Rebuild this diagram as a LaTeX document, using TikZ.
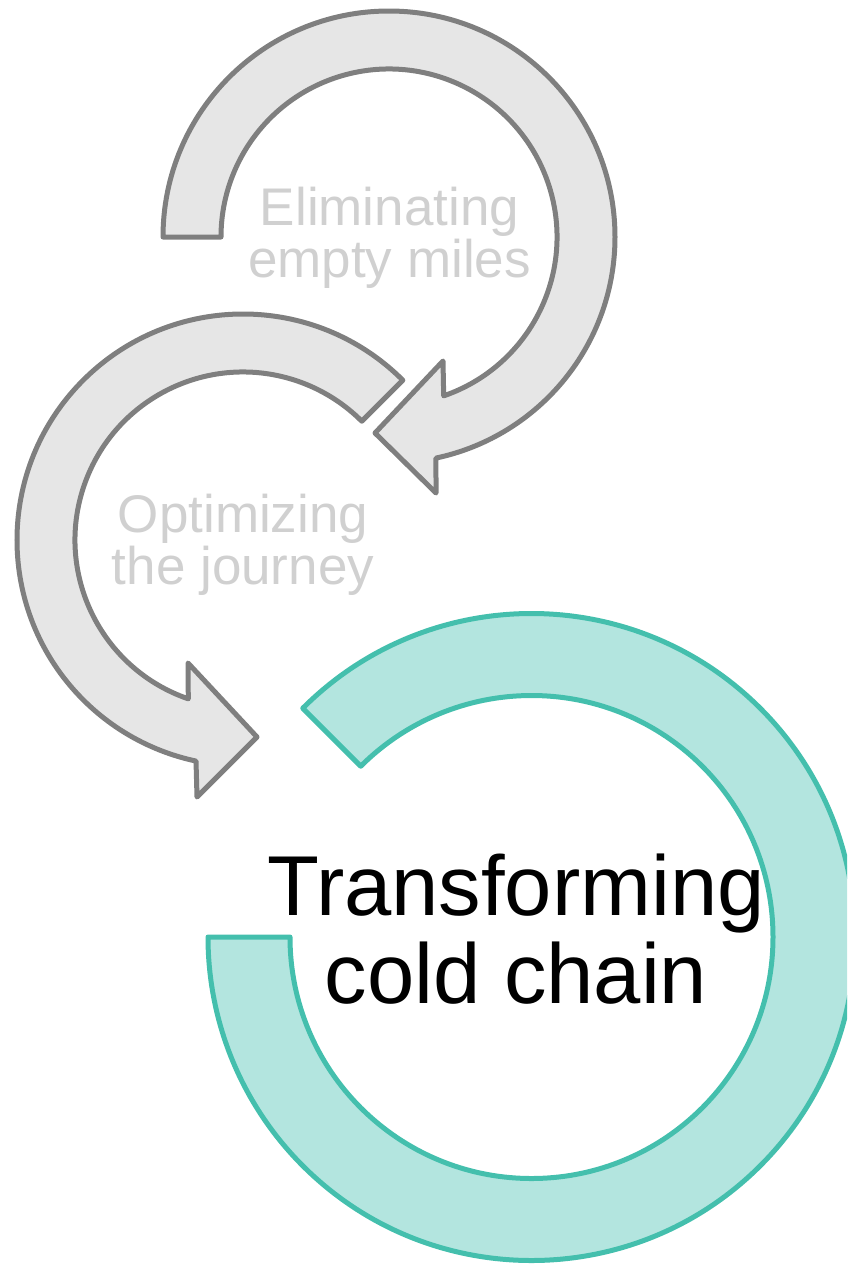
\documentclass[tikz,border=0pt]{standalone}
\usepackage{fontspec}
\setmainfont{Liberation Sans}
\usetikzlibrary{calc}
\definecolor{grayfill}{HTML}{E6E6E6}
\definecolor{graystroke}{HTML}{7F7F7F}
\definecolor{graytext}{HTML}{D0D0D0}
\definecolor{tealfill}{HTML}{B3E5DF}
\definecolor{tealstroke}{HTML}{44BFAD}
\tikzset{
  grayarrow/.style={fill=grayfill, draw=graystroke, line width=5pt, line join=round},
  tealarrow/.style={fill=tealfill, draw=tealstroke, line width=5pt, line join=round},
  smalltext/.style={text=graytext, align=center, inner sep=0pt, anchor=base, font=\fontsize{53}{52}\selectfont},
  bigtext/.style={text=black, align=center, inner sep=0pt, anchor=base, font=\fontsize{85}{88}\selectfont}
}
\begin{document}
\begin{tikzpicture}[x=1pt,y=1pt]
\useasboundingbox (0,0) rectangle (847,-1264);
\clip (0,0) rectangle (847,-1264);
% arrow 1
\coordinate (c1) at (389,-237);
\draw[grayarrow] ($(c1)+(180:226)$) arc[start angle=180, end angle=-78, radius=226pt]
  -- (436,-493) -- (375,-433) -- (443,-361)
  -- ($(c1)+(-71:168)$) arc[start angle=-71, end angle=180, radius=168pt] -- cycle;
% arrow 2
\coordinate (c2) at (243,-540);
\draw[grayarrow] ($(c2)+(45:226)$) arc[start angle=45, end angle=258, radius=226pt]
  -- (197,-797) -- (257,-737) -- (188,-663)
  -- ($(c2)+(251:168)$) arc[start angle=251, end angle=45, radius=168pt] -- cycle;
% arrow 3
\coordinate (c3) at (531.5,-937);
\draw[tealarrow] ($(c3)+(135:323.5)$) arc[start angle=135, end angle=-180, radius=323.5pt]
  -- ($(c3)+(180:241.5)$) arc[start angle=-180, end angle=135, radius=241.5pt] -- cycle;
% texts (base anchor = baseline of last line)
\node[smalltext] (t1) at (389.5,-277) {Eliminating\\empty miles};
\node[smalltext] (t2) at (243,-584) {Optimizing\\the journey};
\node[bigtext] (t3) at (516,-1003) {Transforming\\cold chain};
\end{tikzpicture}
\end{document}
